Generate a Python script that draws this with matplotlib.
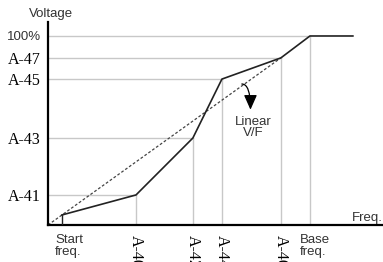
import matplotlib
matplotlib.use("Agg")
import matplotlib.pyplot as plt
from matplotlib.transforms import blended_transform_factory

# ---- data (frequency in % of base freq, voltage in % of rated) ----
freq_labels = ["Start\nfreq.", "A-40", "A-42", "A-44", "A-46", "Base\nfreq."]
freq_values = [5.3, 33.6, 55.3, 66.4, 88.9, 100.0]
volt_labels = ["A-41", "A-43", "A-45", "A-47", "100%"]
volt_values = [15.9, 46.0, 77.2, 88.4, 100.0]
start_volt = 5.3
max_freq = 116.4
linear_end = (88.9, 88.4)

fig = plt.figure(figsize=(3.83, 2.62), dpi=100)
ax = fig.add_axes([48/383, 37/262, 335/383, 203/262])
ax.set_xlim(0, 127.9)
ax.set_ylim(0, 107.4)

grid_c = "#c8c8c8"
pts_x = freq_values[1:]
pts_y = volt_values
for fx, vy in zip(pts_x, pts_y):
    ax.plot([0, fx], [vy, vy], color=grid_c, lw=1.0, zorder=1)
    ax.plot([fx, fx], [0, vy], color=grid_c, lw=1.0, zorder=1)

# start freq vertical
ax.plot([freq_values[0], freq_values[0]], [0, start_volt], color="#222222", lw=1.0, zorder=3)

# V/F pattern line
line_x = [freq_values[0]] + pts_x + [max_freq]
line_y = [start_volt] + pts_y + [volt_values[-1]]
ax.plot(line_x, line_y, color="#222222", lw=1.2, zorder=3)

# linear V/F dashed
ax.plot([0, linear_end[0]], [0, linear_end[1]], color="#444444", lw=0.9,
        linestyle=(0, (2.2, 1.6)), zorder=2)

# curved arrow
ax.annotate("", xy=(77.3, 61.0), xytext=(74.0, 74.6),
            arrowprops=dict(arrowstyle="-|>,head_length=0.9,head_width=0.4",
                            connectionstyle="angle3,angleA=0,angleB=90",
                            shrinkA=0, shrinkB=0, color="black", lw=0.9))
ax.text(78.3, 51.5, "Linear\nV/F", ha="center", va="center", fontsize=9.5,
        family="Liberation Sans", color="#333333", linespacing=0.95)

# spines
for s in ["top", "right"]:
    ax.spines[s].set_visible(False)
ax.spines["left"].set_linewidth(1.6)
ax.spines["bottom"].set_linewidth(1.6)
ax.set_xticks([])
ax.set_yticks(volt_values)
ax.set_yticklabels(volt_labels)
ax.tick_params(axis="y", length=0, pad=5)
for lab in ax.get_yticklabels():
    if lab.get_text().startswith("A"):
        lab.set_fontfamily("Liberation Serif")
        lab.set_fontsize(11.5)
        lab.set_color("black")
    else:
        lab.set_fontfamily("Liberation Sans")
        lab.set_fontsize(9.5)
        lab.set_color("#333333")

# x labels
tr = blended_transform_factory(ax.transData, ax.transAxes)
for fx, lab in zip(freq_values, freq_labels):
    if lab.startswith("A"):
        ax.text(fx, -0.05, lab, transform=tr, rotation=270, ha="center", va="top",
                fontsize=11.5, family="Liberation Serif", color="black")
    else:
        ax.text(fx - 2.5 if lab.startswith("S") else fx - 3.8, -0.045, lab, transform=tr,
                ha="left", va="top", fontsize=9.5, family="Liberation Sans",
                color="#333333", linespacing=1.0)

ax.text(1.0, 0.005, "Freq.", transform=ax.transAxes, ha="right", va="bottom",
        fontsize=9.5, family="Liberation Sans", color="#333333")
fig.text(51/383, 1 - 14/262, "Voltage", ha="center", va="center", fontsize=9.5,
         family="Liberation Sans", color="#333333")

fig.savefig("out.png", dpi=100)
